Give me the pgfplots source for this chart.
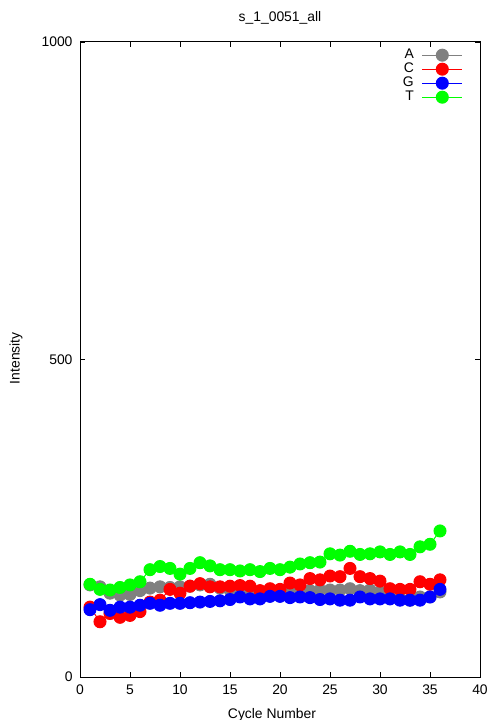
\documentclass[border=0pt]{standalone}
\usepackage{fontspec}
\setmainfont{Liberation Sans}
\usepackage{pgfplots}
\pgfplotsset{compat=1.18}
\newcommand\f{\fontsize{13.9bp}{16bp}\selectfont}
\definecolor{cA}{RGB}{128,128,128}
\definecolor{cC}{RGB}{255,0,0}
\definecolor{cG}{RGB}{0,0,255}
\definecolor{cT}{RGB}{0,255,0}
\begin{document}
\begin{tikzpicture}[font=\f]
\useasboundingbox (0,0) rectangle (504bp,720bp);
\begin{axis}[
    at={(80bp,43bp)}, anchor=south west,
    scale only axis, width=400bp, height=635bp,
    xmin=0, xmax=40, ymin=0, ymax=1000,
    xtick={0,5,...,40}, ytick={0,500,1000},
    tick align=inside, major tick length=5bp,
    axis line style={line width=1bp, black},
    every tick/.style={black, line width=0.8bp},
    /pgf/number format/assume math mode=true,
    /pgf/number format/1000 sep={},
    every tick label/.append style={font=\f},
    xticklabel style={yshift=-4bp},
    yticklabel style={xshift=-4bp},
    title={s\_1\_0051\_all},
    title style={at={(axis description cs:0.5,1)}, anchor=base, yshift=15bp, font=\f},
    xlabel={Cycle Number},
    xlabel style={at={(axis description cs:0.48,0)}, anchor=base, yshift=-41bp, font=\f},
    ylabel={Intensity},
    ylabel style={at={(axis description cs:-0.16,0.502)}, anchor=center, font=\f},
    legend cell align=right,
    legend plot pos=right,
    legend style={draw=none, fill=none, at={(axis description cs:1,1)}, anchor=north east,
        xshift=-17bp, yshift=-6bp, inner sep=0pt, row sep=0pt, column sep=8bp,
        nodes={inner sep=0pt, text height=10bp, text depth=4bp, font=\f}},
    legend image code/.code={\draw[mark repeat=2,mark phase=2,#1] plot coordinates {(0bp,0bp) (20bp,0bp) (40bp,0bp)};},
    every axis plot/.append style={line width=1bp, mark=*, mark size=6bp, mark options={solid}},
]
\addplot[cA, mark options={fill=cA}] coordinates {
(1,145) (2,142) (3,132) (4,129) (5,130) (6,136) (7,140) (8,142) (9,141) (10,142)
(11,143) (12,145) (13,146) (14,140) (15,137) (16,135) (17,134) (18,133) (19,133) (20,134)
(21,134) (22,135) (23,136) (24,137) (25,137) (26,137) (27,139) (28,136) (29,137) (30,134)
(31,132) (32,124) (33,121) (34,126) (35,126) (36,134)};
\addlegendentry{A}
\addplot[cC, mark options={fill=cC}] coordinates {
(1,110) (2,87) (3,100) (4,94) (5,97) (6,103) (7,118) (8,121) (9,138) (10,132)
(11,143) (12,147) (13,142) (14,142) (15,143) (16,144) (17,143) (18,136) (19,139) (20,138)
(21,148) (22,145) (23,155) (24,153) (25,159) (26,158) (27,171) (28,158) (29,155) (30,151)
(31,139) (32,138) (33,138) (34,150) (35,146) (36,153)};
\addlegendentry{C}
\addplot[cG, mark options={fill=cG}] coordinates {
(1,106) (2,114) (3,105) (4,110) (5,110) (6,113) (7,116) (8,113) (9,116) (10,116)
(11,117) (12,118) (13,119) (14,120) (15,122) (16,126) (17,123) (18,123) (19,127) (20,127)
(21,125) (22,126) (23,125) (24,122) (25,123) (26,121) (27,121) (28,126) (29,123) (30,123)
(31,123) (32,121) (33,121) (34,121) (35,126) (36,138)};
\addlegendentry{G}
\addplot[cT, mark options={fill=cT}] coordinates {
(1,146) (2,138) (3,137) (4,141) (5,145) (6,150) (7,169) (8,174) (9,171) (10,162)
(11,171) (12,180) (13,175) (14,169) (15,169) (16,167) (17,169) (18,166) (19,171) (20,169)
(21,173) (22,178) (23,180) (24,181) (25,194) (26,192) (27,198) (28,193) (29,194) (30,197)
(31,193) (32,197) (33,193) (34,205) (35,209) (36,230)};
\addlegendentry{T}
\end{axis}
\end{tikzpicture}
\end{document}
